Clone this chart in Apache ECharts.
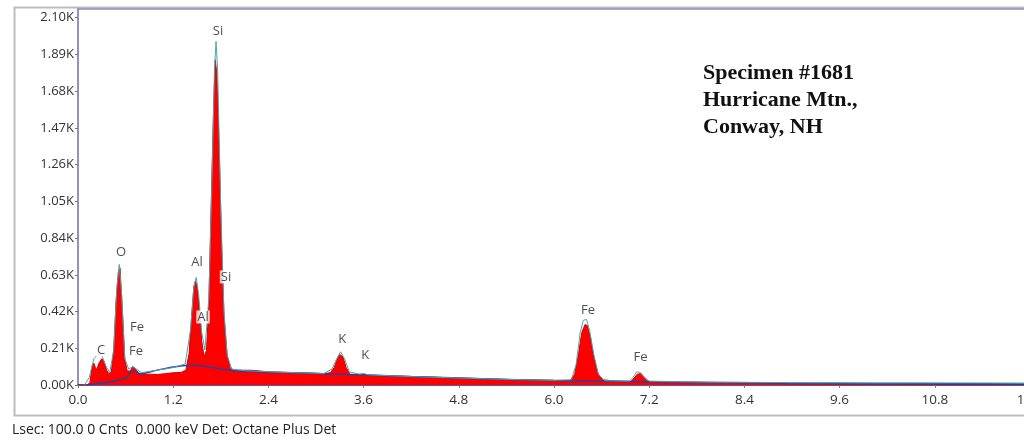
<!DOCTYPE html>
<html>
<head>
<meta charset="utf-8">
<title>EDS spectrum - Specimen #1681</title>
<script src="https://cdn.jsdelivr.net/npm/echarts@6/dist/echarts.min.js"></script>
<style>
  html, body { margin: 0; padding: 0; background: #fff; overflow: hidden; }
  #chart { width: 1060px; height: 441px; }
</style>
</head>
<body>
<div id="chart"></div>
<script>
// measured spectrum (keV, counts)
var specE = [0.00, 0.12, 0.15, 0.18, 0.20, 0.23, 0.27, 0.30, 0.33, 0.36, 0.39, 0.42, 0.45, 0.48, 0.51, 0.53, 0.56, 0.59, 0.62, 0.66,
  0.69, 0.72, 0.76, 0.80, 0.90, 1.00, 1.10, 1.20, 1.30, 1.36, 1.40, 1.43, 1.46, 1.48, 1.50, 1.53, 1.56, 1.59, 1.62, 1.65,
  1.68, 1.71, 1.73, 1.75, 1.78, 1.81, 1.84, 1.88, 1.92, 1.98, 2.20, 2.40, 2.80, 3.10, 3.18, 3.23, 3.27, 3.30, 3.34, 3.38,
  3.43, 3.52, 3.59, 3.66, 4.20, 4.80, 5.40, 6.00, 6.20, 6.26, 6.31, 6.35, 6.39, 6.42, 6.46, 6.50, 6.55, 6.61, 6.80, 6.97,
  7.01, 7.05, 7.09, 7.13, 7.18, 7.30, 7.80, 8.40, 9.00, 10.0, 11.0, 12.0];
var specCounts = [0, 0, 15, 110, 125, 85, 130, 150, 135, 85, 65, 75, 200, 480, 650, 670, 420, 150, 80, 80,
  105, 95, 70, 60, 62, 60, 65, 70, 72, 85, 180, 380, 560, 595, 570, 430, 250, 160, 200, 480,
  1050, 1600, 1860, 1780, 1350, 800, 400, 170, 95, 85, 84, 75, 70, 65, 70, 100, 150, 175, 160, 100,
  60, 57, 62, 55, 48, 40, 32, 26, 26, 60, 180, 300, 345, 340, 270, 160, 70, 30, 22, 20,
  40, 62, 65, 45, 22, 14, 10, 12, 7, 5, 4, 3];

// background (continuum) fit
var bgE = [0.12, 0.30, 0.45, 0.62, 0.68, 0.72, 0.78, 1.00, 1.20, 1.40, 1.55, 1.70, 1.85, 2.00, 2.40, 3.00, 3.60, 4.20, 4.80, 5.40,
  6.00, 7.00, 8.00, 9.00, 10.0, 11.0, 12.0];
var bgCounts = [0, 12, 22, 45, 80, 78, 65, 85, 103, 113, 110, 100, 88, 80, 73, 66, 58, 48, 40, 32,
  26, 20, 15, 11, 9, 7, 6];

// peak fit outline
var fitE = [0.08, 0.14, 0.20, 0.25, 0.30, 0.35, 0.40, 0.45, 0.49, 0.52, 0.55, 0.59, 0.64, 0.69, 0.74, 0.80, 1.00, 1.20, 1.35, 1.42,
  1.46, 1.49, 1.52, 1.56, 1.60, 1.65, 1.69, 1.72, 1.74, 1.76, 1.80, 1.84, 1.88, 1.94, 2.10, 2.60, 3.10, 3.20, 3.26, 3.31,
  3.36, 3.42, 3.55, 3.60, 3.66, 4.20, 4.80, 5.40, 6.00, 6.22, 6.28, 6.33, 6.37, 6.41, 6.45, 6.50, 6.56, 6.64, 6.95, 7.00,
  7.04, 7.09, 7.14, 7.20, 8.00, 9.00, 10.0, 11.0, 12.0];
var fitCounts = [0, 40, 150, 175, 170, 110, 70, 200, 560, 690, 520, 150, 90, 105, 90, 70, 85, 100, 120, 320,
  560, 615, 520, 300, 200, 500, 1200, 1800, 1965, 1800, 1000, 420, 170, 90, 82, 72, 66, 90, 150, 190,
  150, 75, 62, 66, 58, 48, 40, 32, 27, 30, 120, 300, 370, 375, 310, 180, 60, 25, 22, 45,
  75, 72, 45, 22, 16, 14, 12, 12, 11];

// peak labels: element, keV, label height (counts)
var peakNames = ['Si', 'O', 'Al', 'Si', 'Al', 'Fe', 'Fe', 'C', 'K', 'K', 'Fe', 'Fe'];
var peakE = [1.765, 0.542, 1.50, 1.866, 1.576, 0.744, 0.731, 0.29, 3.33, 3.62, 6.43, 7.09];
var peakLabelY = [2022, 756, 704, 618, 389, 332, 195, 200, 263, 172, 430, 160];

var specimenLines = ['Specimen #1681', 'Hurricane Mtn.,', 'Conway, NH'];
var footerText = 'Lsec: 100.0 0 Cnts  0.000 keV Det: Octane Plus Det';

function zip(xs, ys) {
  return xs.map(function (x, i) { return [x, ys[i]]; });
}

var chart = echarts.init(document.getElementById('chart'));
var font = '"Open Sans", "Noto Sans", sans-serif';

var option = {
  animation: false,
  grid: {
    left: 78, right: 30, top: 9, bottom: 56,
    show: true, borderColor: '#8a8cc0', borderWidth: 1.5, backgroundColor: '#fff'
  },
  xAxis: {
    type: 'value', min: 0, max: 12, interval: 1.2,
    axisLine: { show: true, onZero: false, lineStyle: { color: '#39408c', width: 1.5 } },
    axisTick: { show: true, length: 3, lineStyle: { color: '#777' } },
    splitLine: { show: false },
    axisLabel: {
      margin: 8, fontFamily: font, fontSize: 13.5, color: '#333',
      formatter: function (v) { return v.toFixed(1); }
    }
  },
  yAxis: {
    type: 'value', min: 0, max: 2150, interval: 210,
    axisLine: { show: true, lineStyle: { color: '#8a8cc0', width: 1.5 } },
    axisTick: { show: true, length: 3, lineStyle: { color: '#777' } },
    splitLine: { show: false },
    axisLabel: {
      margin: 4, fontFamily: font, fontSize: 13, color: '#333', showMaxLabel: false,
      formatter: function (v) { return (v / 1000).toFixed(2) + 'K'; }
    }
  },
  series: [
    {
      name: 'Spectrum', type: 'line', data: zip(specE, specCounts), z: 2,
      showSymbol: false, symbol: 'none',
      lineStyle: { color: '#d00000', width: 1 },
      areaStyle: { color: '#ff0000', opacity: 1 }
    },
    {
      name: 'Background', type: 'line', data: zip(bgE, bgCounts), z: 3,
      showSymbol: false, symbol: 'none', smooth: 0.3,
      lineStyle: { color: '#2c3f99', width: 1.5 }
    },
    {
      name: 'Fit', type: 'line', data: zip(fitE, fitCounts), z: 4,
      showSymbol: false, symbol: 'none',
      lineStyle: { color: '#4fa3ad', width: 1 }
    },
    {
      name: 'Peaks', type: 'scatter', symbolSize: 0, z: 5,
      data: peakNames.map(function (n, i) { return { name: n, value: [peakE[i], peakLabelY[i]] }; }),
      label: {
        show: true, position: 'inside', formatter: '{b}',
        fontFamily: font, fontSize: 13, color: '#222',
        backgroundColor: '#fff', padding: [0, 1]
      }
    }
  ],
  graphic: [
    {
      type: 'rect', left: 12, top: 5, z: -10, silent: true,
      shape: { width: 1100, height: 408 },
      style: { fill: 'none', stroke: '#bdbdbd', lineWidth: 2 }
    },
    {
      type: 'text', left: 703, top: 60, z: 10,
      style: {
        text: specimenLines.join('\n'), fill: '#111',
        font: 'bold 22px "Liberation Serif", "DejaVu Serif", serif', lineHeight: 27
      }
    },
    {
      type: 'text', left: 12, top: 423, z: 10,
      style: { text: footerText, fill: '#222', font: '14px "Open Sans", "Noto Sans", sans-serif' }
    }
  ]
};

chart.setOption(option);
</script>
</body>
</html>
